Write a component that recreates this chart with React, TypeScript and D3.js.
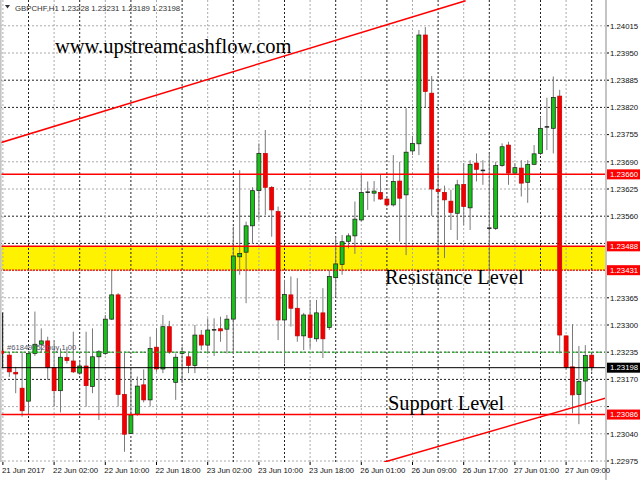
import React from 'react';
import * as d3 from 'd3';

const symbol = 'GBPCHF,H1';
const lastQuote = ['1.23228', '1.23231', '1.23189', '1.23198'];

// H1 bars, oldest first (21 Jun 19:00 .. 27 Jun 10:00)
const opens = [
  1.23228, 1.23187, 1.23149, 1.23118, 1.23232, 1.23254, 1.23262, 1.23198, 1.23143, 1.23222,
  1.23214, 1.23185, 1.23202, 1.23153, 1.23224, 1.23232, 1.23314, 1.23372, 1.23134, 1.23041,
  1.23087, 1.23157, 1.23121, 1.23247, 1.23195, 1.23296, 1.23163, 1.23232, 1.23224, 1.23203,
  1.23276, 1.23252, 1.23288, 1.23291, 1.23290, 1.23314, 1.23463, 1.23474, 1.23537, 1.23621,
  1.23710, 1.23629, 1.23571, 1.23312, 1.23372, 1.23340, 1.23274, 1.23324, 1.23267, 1.23329,
  1.23294, 1.23413, 1.23445, 1.23500, 1.23513, 1.23551, 1.23617, 1.23615, 1.23617, 1.23601,
  1.23587, 1.23644, 1.23611, 1.23716, 1.23733, 1.23993, 1.23854, 1.23624, 1.23617, 1.23596,
  1.23567, 1.23636, 1.23580, 1.23687, 1.23669, 1.23531, 1.23531, 1.23681, 1.23730, 1.23663,
  1.23675, 1.23641, 1.23684, 1.23710, 1.23773, 1.23770, 1.23847, 1.23274, 1.23200, 1.23134,
  1.23166, 1.23228,
];
const highs = [
  1.23233, 1.23200, 1.23233, 1.23238, 1.23332, 1.23292, 1.23272, 1.23264, 1.23244, 1.23248,
  1.23284, 1.23216, 1.23284, 1.23292, 1.23240, 1.23324, 1.23431, 1.23376, 1.23236, 1.23193,
  1.23177, 1.23194, 1.23272, 1.23292, 1.23324, 1.23310, 1.23232, 1.23248, 1.23236, 1.23300,
  1.23288, 1.23316, 1.23316, 1.23320, 1.23324, 1.23535, 1.23670, 1.23547, 1.23629, 1.23734,
  1.23766, 1.23632, 1.23583, 1.23408, 1.23416, 1.23412, 1.23329, 1.23360, 1.23360, 1.23388,
  1.23431, 1.23511, 1.23515, 1.23519, 1.23595, 1.23659, 1.23643, 1.23644, 1.23659, 1.23604,
  1.23706, 1.23690, 1.23818, 1.23752, 1.24005, 1.24012, 1.23895, 1.23682, 1.23633, 1.23623,
  1.23647, 1.23687, 1.23694, 1.23710, 1.23694, 1.23710, 1.23690, 1.23734, 1.23738, 1.23687,
  1.23694, 1.23694, 1.23730, 1.23798, 1.23843, 1.23894, 1.23862, 1.23275, 1.23302, 1.23250,
  1.23252, 1.23231,
];
const lows = [
  1.23176, 1.23137, 1.23081, 1.23085, 1.23226, 1.23233, 1.23169, 1.23105, 1.23091, 1.23208,
  1.23185, 1.23181, 1.23105, 1.23137, 1.23073, 1.23228, 1.23312, 1.23105, 1.22997, 1.23040,
  1.23083, 1.23115, 1.23105, 1.23188, 1.23185, 1.23231, 1.23121, 1.23161, 1.23185, 1.23185,
  1.23240, 1.23232, 1.23226, 1.23260, 1.23232, 1.23232, 1.23420, 1.23352, 1.23494, 1.23551,
  1.23563, 1.23511, 1.23264, 1.23208, 1.23296, 1.23260, 1.23240, 1.23244, 1.23260, 1.23221,
  1.23288, 1.23368, 1.23420, 1.23483, 1.23470, 1.23547, 1.23575, 1.23595, 1.23599, 1.23583,
  1.23583, 1.23499, 1.23467, 1.23706, 1.23706, 1.23820, 1.23561, 1.23467, 1.23460, 1.23527,
  1.23503, 1.23539, 1.23527, 1.23643, 1.23635, 1.23400, 1.23527, 1.23678, 1.23635, 1.23661,
  1.23607, 1.23592, 1.23682, 1.23706, 1.23718, 1.23710, 1.23232, 1.23193, 1.23089, 1.23063,
  1.23097, 1.23189,
];
const closes = [
  1.23188, 1.23183, 1.23095, 1.23232, 1.23254, 1.23262, 1.23198, 1.23143, 1.23223, 1.23215,
  1.23188, 1.23202, 1.23155, 1.23224, 1.23236, 1.23314, 1.23372, 1.23134, 1.23039, 1.23085,
  1.23154, 1.23121, 1.23244, 1.23195, 1.23296, 1.23235, 1.23223, 1.23236, 1.23203, 1.23276,
  1.23252, 1.23288, 1.23289, 1.23286, 1.23314, 1.23465, 1.23471, 1.23537, 1.23621, 1.23710,
  1.23629, 1.23575, 1.23312, 1.23373, 1.23340, 1.23274, 1.23324, 1.23270, 1.23329, 1.23267,
  1.23416, 1.23446, 1.23499, 1.23513, 1.23553, 1.23617, 1.23618, 1.23620, 1.23601, 1.23587,
  1.23643, 1.23603, 1.23713, 1.23734, 1.23993, 1.23858, 1.23625, 1.23619, 1.23599, 1.23569,
  1.23635, 1.23583, 1.23684, 1.23672, 1.23670, 1.23532, 1.23681, 1.23726, 1.23663, 1.23676,
  1.23639, 1.23684, 1.23709, 1.23770, 1.23774, 1.23844, 1.23276, 1.23199, 1.23133, 1.23165,
  1.23227, 1.23198,
];

const priceTicks = [
  '1.22975', '1.23040', '1.23105', '1.23170', '1.23235', '1.23300', '1.23365', '1.23430', '1.23495',
  '1.23560', '1.23625', '1.23690', '1.23755', '1.23820', '1.23885', '1.23950', '1.24015',
];
// one label every 8 bars, the first one sits one bar before the first candle
const timeLabels = [
  '21 Jun 2017', '22 Jun 02:00', '22 Jun 10:00', '22 Jun 18:00', '23 Jun 02:00', '23 Jun 10:00',
  '23 Jun 18:00', '26 Jun 01:00', '26 Jun 09:00', '26 Jun 17:00', '27 Jun 01:00', '27 Jun 09:00',
];

const resistanceLine = 1.2366;
const zoneTop = 1.23488;
const zoneBottom = 1.23431;
const supportLine = 1.23086;
const bidPrice = 1.23198;
const orderPrice = 1.23235;
const orderLabel = '#61849752 buy 1.00';
// trend lines as [bar index, price]
const upperTrend: [number, number][] = [[-1.5, 1.23735], [71.3, 1.24075]];
const lowerTrend: [number, number][] = [[58.5, 1.22972], [94, 1.23129]];

const siteText = 'www.upstreamcashflow.com';
const resistanceText = 'Resistance Level';
const supportText = 'Support Level';

const W = 640;
const H = 480;
const plotRight = 606;
const plotBottom = 462;
const sans = '"Liberation Sans", Arial, sans-serif';
const serif = '"Liberation Serif", "Times New Roman", serif';

export default function App() {
  const x = d3.scaleLinear().domain([0, opens.length - 1]).range([9.3, 591.7]);
  const y = d3.scaleLinear().domain([1.22975, 1.24015]).range([461, 25.8]);

  const candles = opens.map((o, i) => ({ i, o, h: highs[i], l: lows[i], c: closes[i] }));
  const gridBars = d3.range(-1, opens.length, 4);
  const trend = d3.line<[number, number]>().x(d => x(d[0])).y(d => y(d[1]));

  const redBoxes = [resistanceLine, zoneTop, zoneBottom, supportLine];
  const boxPrices = [...redBoxes, bidPrice];
  // the price boxes hide the tick labels underneath them
  const visibleTicks = priceTicks.filter(t => boxPrices.every(p => Math.abs(y(+t) - y(p)) > 8));

  return (
    <svg width={W} height={H} style={{ position: 'absolute', left: 0, top: 0, background: '#fff' }}
      fontFamily={sans}>
      <defs>
        <clipPath id="plot">
          <rect x={0} y={0} width={plotRight} height={plotBottom} />
        </clipPath>
      </defs>
      <rect x={0} y={0} width={W} height={H} fill="#fff" />

      <g clipPath="url(#plot)">
        {/* zone */}
        <rect x={0} y={y(zoneTop)} width={plotRight} height={y(zoneBottom) - y(zoneTop)} fill="#fff200" />

        {/* grid */}
        {priceTicks.map((t, k) => (
          <line key={'hg' + t} x1={0} x2={plotRight} y1={y(+t)} y2={y(+t)}
            stroke={k % 5 === 3 || k % 5 === 4 ? '#222' : '#aaa'} strokeWidth={1} strokeDasharray="2,2" />
        ))}
        {gridBars.map((b, k) => (
          <line key={'vg' + b} x1={x(b)} x2={x(b)} y1={0} y2={plotBottom}
            stroke={k % 2 === 1 ? '#222' : '#aaa'} strokeWidth={1} strokeDasharray="2,2" />
        ))}

        {/* candles */}
        {candles.map(d => (
          <line key={'w' + d.i} x1={x(d.i)} x2={x(d.i)} y1={y(d.h)} y2={y(d.l)} stroke="#7a7a7a" strokeWidth={1} />
        ))}
        {candles.map(d => {
          const top = y(Math.max(d.o, d.c));
          const hgt = Math.abs(y(d.o) - y(d.c));
          if (hgt < 1.5) {
            return <rect key={'b' + d.i} x={x(d.i) - 2.2} y={top - 0.5} width={4.4} height={1.5} fill="#222" />;
          }
          const up = d.c >= d.o;
          return (
            <rect key={'b' + d.i} x={x(d.i) - 2} y={top} width={4} height={hgt}
              fill={up ? '#19c219' : '#f00000'} stroke={up ? '#1a1a1a' : '#c40000'} strokeWidth={0.7} />
          );
        })}

        {/* levels */}
        <line x1={0} x2={plotRight} y1={y(zoneTop)} y2={y(zoneTop)} stroke="#f00" strokeWidth={1.5} />
        <line x1={0} x2={plotRight} y1={y(zoneBottom)} y2={y(zoneBottom)} stroke="#e00" strokeWidth={1.2} strokeDasharray="2,1" />
        <line x1={0} x2={plotRight} y1={y(resistanceLine)} y2={y(resistanceLine)} stroke="#f00" strokeWidth={1.5} />
        <line x1={0} x2={plotRight} y1={y(supportLine)} y2={y(supportLine)} stroke="#f00" strokeWidth={1.5} />
        <path d={trend(upperTrend) || ''} fill="none" stroke="#f00" strokeWidth={1.5} />
        <path d={trend(lowerTrend) || ''} fill="none" stroke="#f00" strokeWidth={1.5} />

        {/* order and bid */}
        <line x1={4} x2={plotRight} y1={y(orderPrice)} y2={y(orderPrice)} stroke="#2ab82a" strokeWidth={1} strokeDasharray="5,3" />
        <line x1={0} x2={plotRight} y1={y(bidPrice)} y2={y(bidPrice)} stroke="#000" strokeWidth={1} />
        <line x1={2.7} x2={2.7} y1={y(1.2333)} y2={y(bidPrice)} stroke="#000" strokeWidth={1} />
        <rect x={1} y={y(orderPrice) - 1.5} width={3} height={3} fill="#e00" />
        <text x={7} y={y(orderPrice) - 2} fontSize={7.6} fill="#556">{orderLabel}</text>
      </g>

      {/* annotations */}
      <text x={55} y={53} fontFamily={serif} fontSize={20.5} fill="#000">{siteText}</text>
      <text x={385} y={284} fontFamily={serif} fontSize={20.4} fill="#000">{resistanceText}</text>
      <text x={388} y={410} fontFamily={serif} fontSize={20.4} fill="#000">{supportText}</text>

      {/* header */}
      <path d="M5,5 L10,5 L7.5,8.5 Z" fill="#333" />
      <text x={15} y={11} fontSize={7.8} fill="#333">
        {symbol + '  ' + lastQuote.join(' ')}
      </text>

      {/* frame */}
      <rect x={0} y={0} width={1.6} height={plotBottom} fill="#c4c4c4" />
      <rect x={plotRight - 1} y={0} width={2} height={H} fill="#c4c4c4" />

      {/* price axis */}
      {priceTicks.map(t => (
        <line key={'pm' + t} x1={plotRight + 1} x2={plotRight + 3} y1={y(+t)} y2={y(+t)} stroke="#000" />
      ))}
      {visibleTicks.map(t => (
        <text key={'pt' + t} x={610} y={y(+t)} dy="0.35em" fontSize={7.8} fill="#111">{t}</text>
      ))}
      {redBoxes.map(p => (
        <g key={'rb' + p}>
          <rect x={607} y={y(p) - 5} width={33} height={10} fill="#f00" />
          <text x={610} y={y(p)} dy="0.35em" fontSize={7.8} fill="#fff">{p.toFixed(5)}</text>
        </g>
      ))}
      <rect x={607} y={y(bidPrice) - 5} width={33} height={10} fill="#000" />
      <text x={610} y={y(bidPrice)} dy="0.35em" fontSize={7.8} fill="#fff">{bidPrice.toFixed(5)}</text>

      {/* time axis */}
      {timeLabels.map((t, k) => {
        const bx = x(-1 + 8 * k);
        return (
          <g key={'tl' + t}>
            <line x1={bx} x2={bx} y1={plotBottom} y2={plotBottom + 3} stroke="#000" />
            <text x={bx - 1} y={473} fontSize={7.8} fill="#111">{t}</text>
          </g>
        );
      })}
    </svg>
  );
}
